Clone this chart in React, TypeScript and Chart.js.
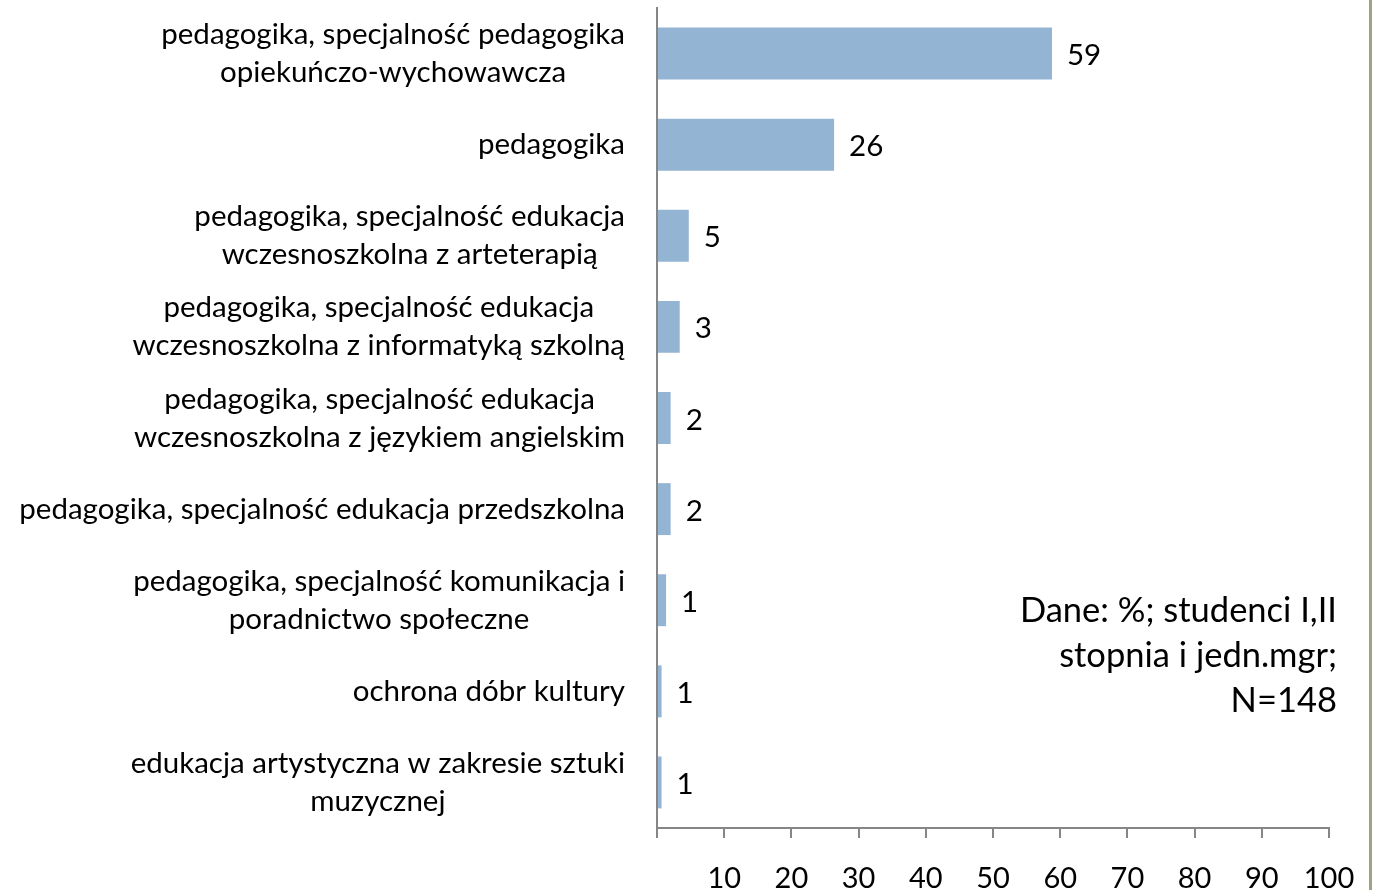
import React, { useEffect, useRef } from "react";
import { Chart, registerables } from "chart.js";

Chart.register(...registerables);

const categories: string[][] = [
  ["pedagogika, specjalność pedagogika", "opiekuńczo-wychowawcza"],
  ["pedagogika"],
  ["pedagogika, specjalność edukacja", "wczesnoszkolna z arteterapią"],
  ["pedagogika, specjalność edukacja", "wczesnoszkolna z informatyką szkolną"],
  ["pedagogika, specjalność edukacja", "wczesnoszkolna z językiem angielskim"],
  ["pedagogika, specjalność edukacja przedszkolna"],
  ["pedagogika, specjalność komunikacja i", "poradnictwo społeczne"],
  ["ochrona dóbr kultury"],
  ["edukacja artystyczna w zakresie sztuki", "muzycznej"],
];
const values: number[] = [58.78, 26.35, 4.73, 3.38, 2.03, 2.03, 1.35, 0.68, 0.68];
const valueLabels: string[] = ["59", "26", "5", "3", "2", "2", "1", "1", "1"];
const xTicks: number[] = [0, 10, 20, 30, 40, 50, 60, 70, 80, 90, 100];
const noteLines: string[] = ["Dane: %; studenci I,II", "stopnia i jedn.mgr;", "N=148"];

const FONT = "Lato, 'Open Sans', sans-serif";

export default function App() {
  const ref = useRef<HTMLCanvasElement | null>(null);
  useEffect(() => {
    if (!ref.current) return;
    const extras = {
      id: "extras",
      afterDraw(chart: any) {
        const ctx = chart.ctx as CanvasRenderingContext2D;
        const y = chart.scales.y;
        const x = chart.scales.x;
        ctx.save();
        ctx.fillStyle = "#000";
        ctx.textBaseline = "middle";
        // category labels
        ctx.font = `29.5px ${FONT}`;
        categories.forEach((lines, i) => {
          const cy = y.getPixelForValue(i);
          const lh = 38;
          const maxW = Math.max(...lines.map((l) => ctx.measureText(l).width));
          const cx = 625 - maxW / 2;
          ctx.textAlign = "center";
          lines.forEach((l, j) => {
            const ly = cy + (j - (lines.length - 1) / 2) * lh;
            ctx.fillText(l, cx, ly);
          });
        });
        // value labels
        ctx.textAlign = "left";
        ctx.font = `29.5px ${FONT}`;
        values.forEach((v, i) => {
          ctx.fillText(valueLabels[i], x.getPixelForValue(v) + 15, y.getPixelForValue(i) + 2);
        });
        // note
        ctx.textAlign = "right";
        ctx.font = `34.5px ${FONT}`;
        noteLines.forEach((l, j) => {
          ctx.fillText(l, 1337, 611 + j * 45);
        });
        // right border
        ctx.fillStyle = "#9ea383";
        ctx.fillRect(1369, 0, 3, 890);
        ctx.restore();
      },
    };
    const chart = new Chart(ref.current, {
      type: "bar",
      data: {
        labels: categories.map((c) => c.join(" ")),
        datasets: [
          {
            data: values,
            backgroundColor: "#94b4d3",
            barPercentage: 0.57,
            categoryPercentage: 1,
          },
        ],
      },
      options: {
        indexAxis: "y",
        animation: false,
        responsive: false,
        layout: { padding: { top: 8, right: 46, left: 0, bottom: 0 } },
        plugins: { legend: { display: false }, tooltip: { enabled: false } },
        scales: {
          x: {
            min: 0,
            max: 100,
            afterFit: (s: any) => {
              s.height = 62;
              s.paddingRight = 0;
              s.paddingLeft = 0;
            },
            afterBuildTicks: (s: any) => {
              s.ticks = xTicks.map((v) => ({ value: v }));
            },
            grid: { drawOnChartArea: false, drawTicks: true, tickLength: 10, color: "#868686", lineWidth: 2 },
            border: { display: true, color: "#868686", width: 2 },
            ticks: {
              padding: 23,
              color: "#000",
              font: { family: FONT, size: 29 },
              maxRotation: 0,
              callback: (v: any) => (v === 0 ? "" : String(v)),
            },
          },
          y: {
            afterFit: (s: any) => {
              s.width = 657;
            },
            grid: { display: false },
            border: { display: true, color: "#868686", width: 2 },
            ticks: { display: false },
          },
        },
      },
      plugins: [extras],
    });
    return () => chart.destroy();
  }, []);
  return (
    <div style={{ position: "fixed", left: 0, top: 0, width: 1375, height: 890, background: "#fff" }}>
      <canvas ref={ref} width={1375} height={890} />
    </div>
  );
}
